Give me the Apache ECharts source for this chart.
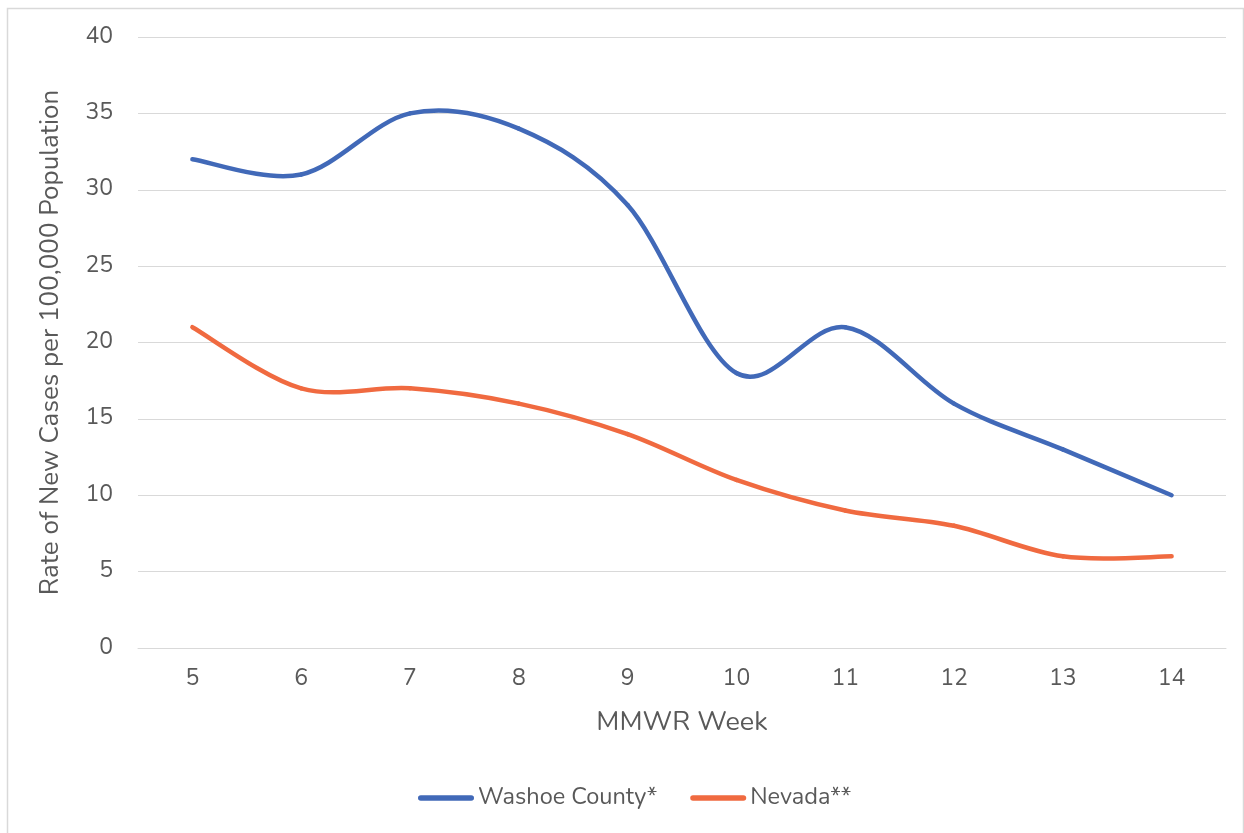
<!DOCTYPE html>
<html>
<head>
<meta charset="utf-8">
<script src="https://cdn.jsdelivr.net/npm/echarts@6/dist/echarts.min.js"></script>
<style>
  html, body { margin: 0; padding: 0; background: #fff; }
  #chart { width: 1244px; height: 833px; }
</style>
</head>
<body>
<div id="chart"></div>
<script>
// MMWR weeks
const weeks = ['5', '6', '7', '8', '9', '10', '11', '12', '13', '14'];
// rate of new cases per 100,000
const washoe = [32, 31, 35, 34, 29, 18, 21, 16, 13, 10];
const nevada = [21, 17, 17, 16, 14, 11, 9, 8, 6, 6];

const textColor = '#595959';
const font = 'Nunito, "Open Sans", Lato, sans-serif';
const capsule = 'path://M3,0H57A3,3,0,0,1,57,6H3A3,3,0,0,1,3,0Z';

// excel style smoothing (catmull-rom), one bezier piece per point
function smoothLine(values, color) {
  return function (params, api) {
    const i = params.dataIndex;
    const n = values.length;
    if (i >= n - 1) return null;
    const p = k => api.coord([Math.max(0, Math.min(n - 1, k)), values[Math.max(0, Math.min(n - 1, k))]]);
    const p0 = p(i - 1), p1 = p(i), p2 = p(i + 1), p3 = p(i + 2);
    return {
      type: 'bezierCurve',
      shape: {
        x1: p1[0], y1: p1[1],
        x2: p2[0], y2: p2[1],
        cpx1: p1[0] + (p2[0] - p0[0]) / 6,
        cpy1: p1[1] + (p2[1] - p0[1]) / 6,
        cpx2: p2[0] - (p3[0] - p1[0]) / 6,
        cpy2: p2[1] - (p3[1] - p1[1]) / 6
      },
      style: { stroke: color, lineWidth: 4.5, lineCap: 'round', fill: null },
      silent: true
    };
  };
}

const chart = echarts.init(document.getElementById('chart'));
chart.setOption({
  animation: false,
  textStyle: { fontFamily: font, color: textColor },
  graphic: [{
    type: 'rect',
    shape: { x: 7.5, y: 8.5, width: 1236, height: 830 },
    style: { fill: 'none', stroke: '#d9d9d9', lineWidth: 1.5 },
    silent: true
  }],
  grid: { left: 138, right: 18, top: 37, bottom: 185 },
  legend: {
    top: 781,
    left: 413,
    itemWidth: 56,
    itemHeight: 6,
    itemGap: 33,
    textStyle: { fontSize: 23.5, color: textColor, fontFamily: font, padding: [0, 0, 0, -1] },
    data: [
      { name: 'Washoe County*', icon: capsule },
      { name: 'Nevada**', icon: capsule }
    ]
  },
  xAxis: {
    type: 'category',
    data: weeks,
    boundaryGap: true,
    name: 'MMWR Week',
    nameLocation: 'middle',
    nameGap: 62,
    nameTextStyle: { fontSize: 27, color: textColor, fontFamily: font },
    axisLine: { lineStyle: { color: '#d9d9d9', width: 1 } },
    axisTick: { show: false },
    axisLabel: { fontSize: 23, color: textColor, margin: 20, fontFamily: font }
  },
  yAxis: {
    type: 'value',
    min: 0,
    max: 40,
    interval: 5,
    name: 'Rate of New Cases per 100,000 Population',
    nameLocation: 'middle',
    nameGap: 73,
    nameTextStyle: { fontSize: 26, color: textColor, fontFamily: font },
    axisLine: { show: false },
    axisTick: { show: false },
    axisLabel: { fontSize: 23, color: textColor, margin: 25, fontFamily: font },
    splitLine: { lineStyle: { color: '#d9d9d9', width: 1 } }
  },
  series: [
    {
      name: 'Washoe County*',
      type: 'custom',
      data: washoe.map((v, i) => [i, v]),
      encode: { x: 0, y: 1 },
      renderItem: smoothLine(washoe, '#4169B8'),
      itemStyle: { color: '#4169B8' }
    },
    {
      name: 'Nevada**',
      type: 'custom',
      data: nevada.map((v, i) => [i, v]),
      encode: { x: 0, y: 1 },
      renderItem: smoothLine(nevada, '#F06A40'),
      itemStyle: { color: '#F06A40' }
    }
  ]
});
</script>
</body>
</html>
